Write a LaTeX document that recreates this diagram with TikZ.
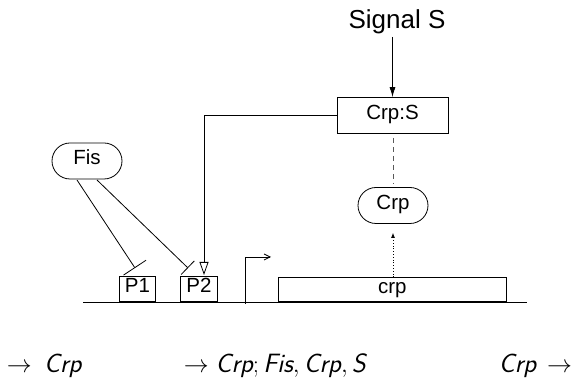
\documentclass[tikz,border=0pt]{standalone}
\usepackage{fontspec}
\setmainfont{Liberation Sans}
\usetikzlibrary{arrows.meta,shapes.misc}
\newcommand\msi[1]{\mbox{\sffamily\itshape #1}}
\begin{document}
\begin{tikzpicture}[x=1pt,y=-1pt,line width=0.8pt,
  box/.style={draw,rectangle,inner sep=0pt,font=\fontsize{20.5}{24}\selectfont,text height=0.716em,text depth=0pt},
  pill/.style={draw,rounded rectangle,inner sep=0pt,minimum width=70pt,minimum height=36pt,font=\fontsize{20.5}{24}\selectfont,text height=0.716em,text depth=0pt},
  lbl/.style={inner sep=0pt,font=\fontsize{26.5}{30}\selectfont},
  inh/.style={-{Bar[width=#1,line width=0.8pt]}}]
\useasboundingbox (0,0) rectangle (574,379);
% baseline
\coordinate (bl) at (83,302);
\coordinate (br) at (527,302);
\draw (bl) -- (br);
% nodes
\node[anchor=base,inner sep=0pt] (sig) at (397,29) {\fontsize{26}{30}\selectfont Signal S};
\node[box,minimum width=111pt,minimum height=36pt] (crps) at (392.5,115.5) {Crp:S};
\node[pill] (crp) at (393,205.5) {Crp};
\node[pill] (fis) at (87,161) {Fis};
\node[box,minimum width=228pt,minimum height=24pt,anchor=south west] (gene) at (278,302) {crp};
\node[box,minimum width=36pt,minimum height=25pt,anchor=south west] (p1) at (119,302) {P1};
\node[box,minimum width=37pt,minimum height=25pt,anchor=south west] (p2) at (180,302) {P2};
% connectors
\draw[-{Latex[length=10pt,width=6pt]}] ([yshift=-8pt]sig.base -| crps.north) -- (crps.north);
\draw[dashed,gray!70!black,dash pattern=on 5pt off 4pt] ([yshift=-4pt]crps.south -| crp.north) -- ([yshift=4pt]crp.north);
\draw[dotted,-{Latex[length=5pt,width=4pt]}] (gene.north -| crp.south) -- ([yshift=-9pt]crp.south);
\coordinate (p2top) at (204,275);
\draw[-{Triangle[open,length=13pt,width=9pt]}] (crps.west) -| (p2top);
\coordinate (i1) at (135,268);
\coordinate (i2) at (188,268);
\draw[inh=27pt] (77,180) -- (i1);
\draw[inh=19pt] (97,180) -- (i2);
% promoter arrow
\coordinate (pr0) at (245,304);
\coordinate (pr1) at (245,257);
\coordinate (pr2) at (271,257);
\draw[-{Straight Barb[length=6pt,width=6pt]}] (pr0) -- (pr1) -- (pr2);
% bottom labels
\node[lbl,anchor=base west] (l1) at (6.5,373) {$\rightarrow\mkern4mu \msi{Crp}$};
\node[lbl,anchor=base west] (l2) at (183.5,373) {$\rightarrow \msi{Crp};\msi{Fis},\msi{Crp},\msi{S}$};
\node[lbl,anchor=base east] (l3) at (572.5,373) {$\msi{Crp}\mkern3mu\rightarrow$};
\end{tikzpicture}
\end{document}
